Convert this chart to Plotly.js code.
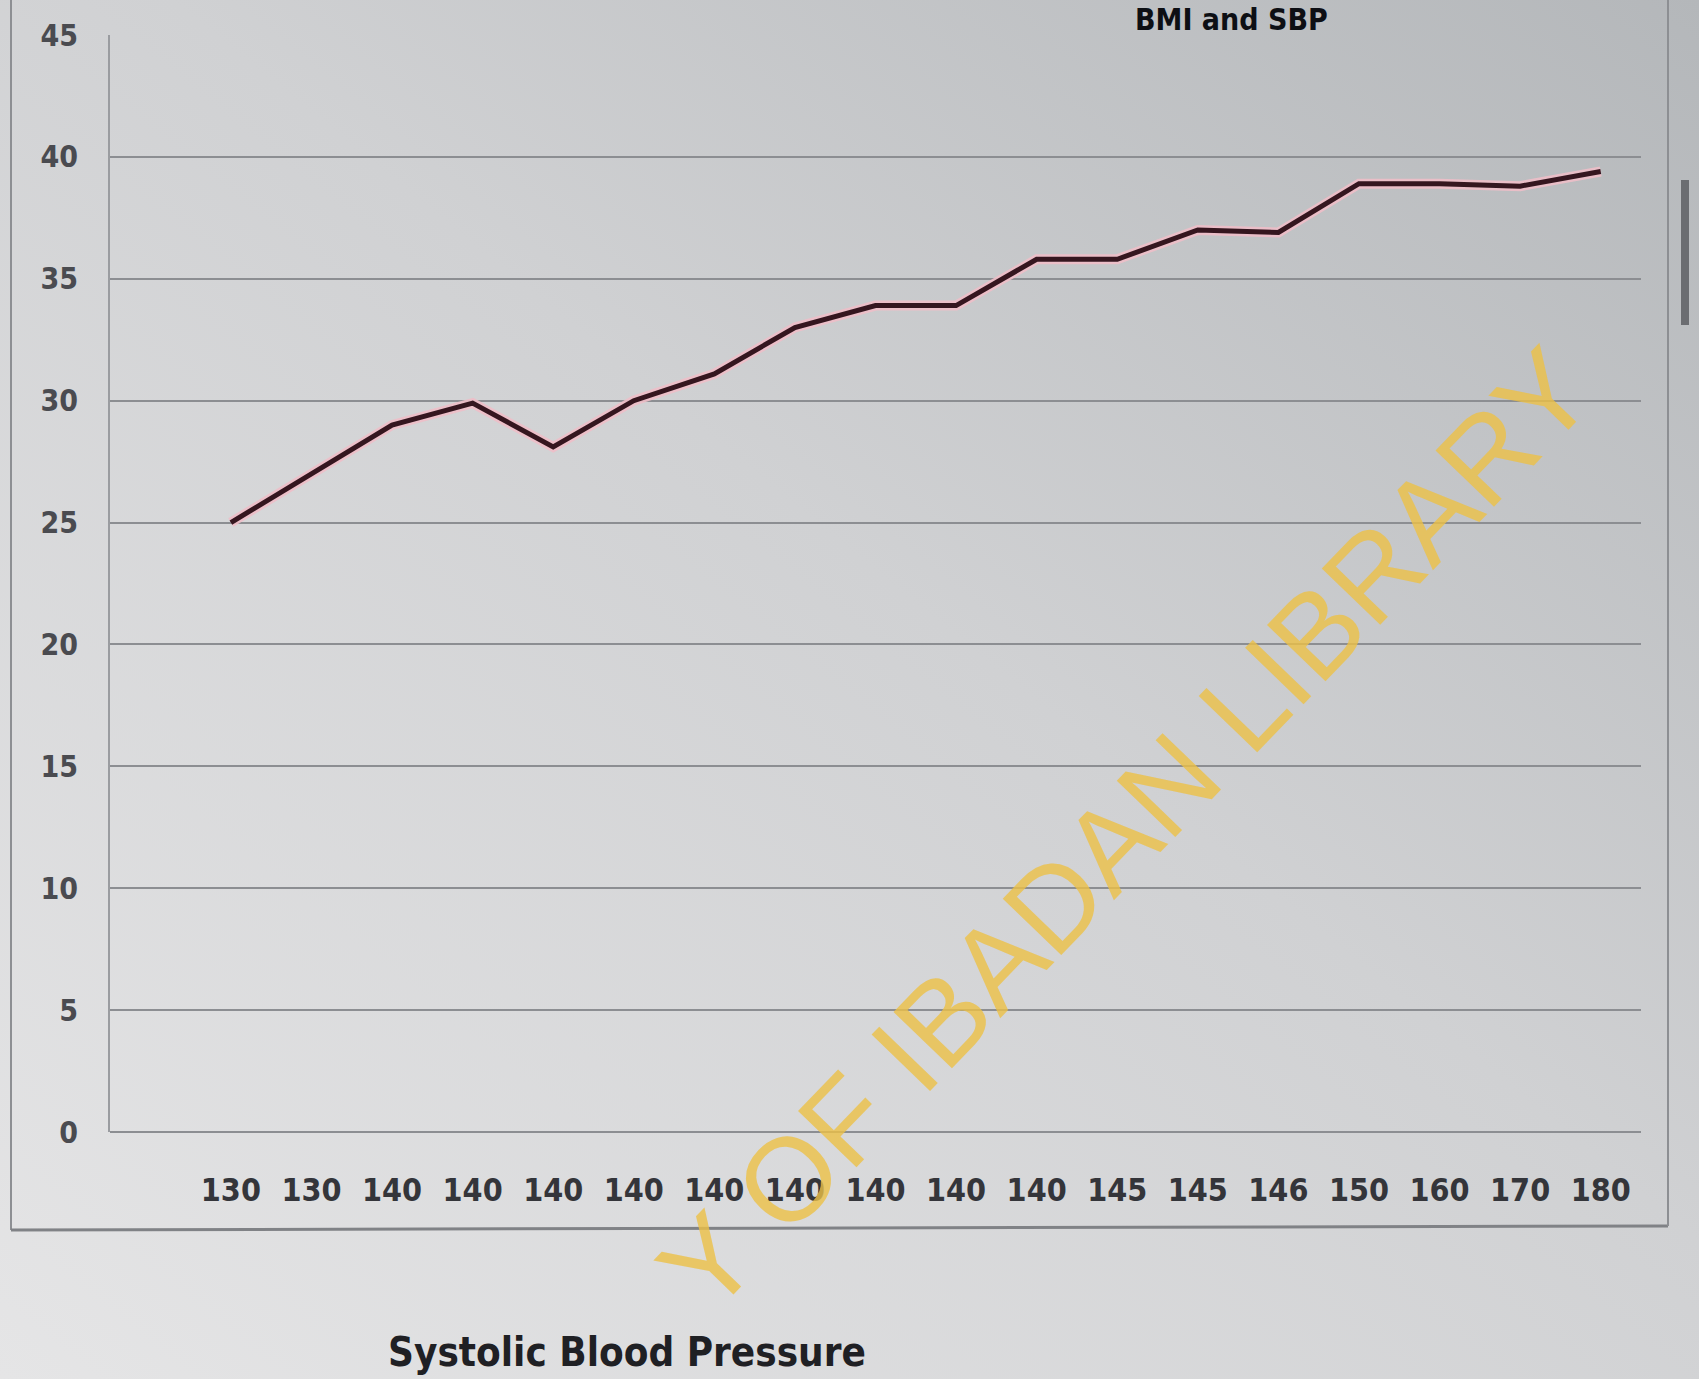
<!DOCTYPE html>
<html>
<head>
<meta charset="utf-8">
<script src="https://cdn.plot.ly/plotly-3.0.1.min.js"></script>
<style>
  html, body { margin: 0; padding: 0; background: #d6d7da; }
  #chart { width: 1699px; height: 1379px; }
</style>
</head>
<body>
<div id="chart"></div>
<script>
// ---- data ----
const sbpLabels = ["130", "130", "140", "140", "140", "140", "140", "140", "140", "140", "140", "145", "145", "146", "150", "160", "170", "180"];
const bmiValues = [25.0, 27.0, 29.0, 29.9, 28.1, 30.0, 31.1, 33.0, 33.9, 33.9, 35.8, 35.8, 37.0, 36.9, 38.9, 38.9, 38.8, 39.4];
const yTicks = [0, 5, 10, 15, 20, 25, 30, 35, 40, 45];
const titleText = "BMI and SBP";
const xTitleText = "Systolic Blood Pressure";
const watermarkText = "Y OF IBADAN LIBRARY";

const xIdx = sbpLabels.map((_, i) => i);
const cond = "'DejaVu Sans Condensed', 'Liberation Sans Narrow', 'Arial Narrow', sans-serif";

const W = 1699, H = 1379;
const M = { l: 110, r: 58, t: 35, b: 247 };
const pw = W - M.l - M.r, ph = H - M.t - M.b;
const px = v => (v - M.l) / pw;          // page x pixel -> paper
const py = v => (H - M.b - v) / ph;      // page y pixel -> paper

const bgSvg = "<svg xmlns='http://www.w3.org/2000/svg' width='1699' height='1379'>" +
  "<defs><linearGradient id='g' x1='1' y1='0' x2='0' y2='1'>" +
  "<stop offset='0' stop-color='#b4b7ba'/>" +
  "<stop offset='0.45' stop-color='#d0d1d3'/>" +
  "<stop offset='1' stop-color='#e5e5e6'/>" +
  "</linearGradient></defs><rect width='1699' height='1379' fill='url(#g)'/></svg>";
const bgUri = "data:image/svg+xml;charset=utf-8," + encodeURIComponent(bgSvg);

const halo = {
  x: xIdx, y: bmiValues, type: "scatter", mode: "lines",
  line: { color: "rgba(238,190,200,0.9)", width: 10 },
  hoverinfo: "skip", showlegend: false
};
const main = {
  x: xIdx, y: bmiValues, type: "scatter", mode: "lines",
  line: { color: "#35161f", width: 5 },
  name: "BMI", showlegend: false
};

const layout = {
  width: W, height: H,
  margin: M,
  paper_bgcolor: "#d4d5d8",
  plot_bgcolor: "rgba(0,0,0,0)",
  showlegend: false,
  images: [{
    source: bgUri, xref: "paper", yref: "paper",
    x: px(0), y: py(0), sizex: W / pw, sizey: H / ph,
    xanchor: "left", yanchor: "top", sizing: "stretch", layer: "below"
  }],
  xaxis: {
    range: [-1.5, 17.5],
    tickmode: "array", tickvals: xIdx, ticktext: sbpLabels,
    showgrid: false, zeroline: false, showline: false,
    ticks: "outside", ticklen: 30, tickcolor: "rgba(0,0,0,0)",
    tickfont: { family: cond, size: 32, color: "#34353a", weight: "bold" },
    fixedrange: true
  },
  yaxis: {
    range: [0, 45],
    tickmode: "array", tickvals: yTicks,
    showgrid: true, gridcolor: "#8c8e92", gridwidth: 2,
    zeroline: true, zerolinecolor: "#8c8e92", zerolinewidth: 2,
    showline: true, linecolor: "#9a9ca0", linewidth: 2,
    ticks: "outside", ticklen: 24, tickcolor: "rgba(0,0,0,0)",
    tickfont: { family: cond, size: 30, color: "#4a4b50", weight: "bold" },
    fixedrange: true
  },
  shapes: [
    // outer chart-area frame
    { type: "line", xref: "paper", yref: "paper", x0: px(11), x1: px(11), y0: py(0), y1: py(1230), line: { color: "#8d8f93", width: 2 } },
    { type: "line", xref: "paper", yref: "paper", x0: px(11), x1: px(1668), y0: py(1230), y1: py(1226), line: { color: "#808286", width: 3 } },
    { type: "line", xref: "paper", yref: "paper", x0: px(1668), x1: px(1668), y0: py(0), y1: py(1226), line: { color: "#8d8f93", width: 2 } },
    // scrollbar-like dark strip at the right edge
    { type: "rect", xref: "paper", yref: "paper", x0: px(1681), x1: px(1689), y0: py(180), y1: py(325), fillcolor: "#6b6d71", line: { width: 0 } }
  ],
  annotations: [
    {
      text: titleText, xref: "paper", yref: "paper",
      x: px(1330), y: py(0), xanchor: "right", yanchor: "top",
      showarrow: false,
      font: { family: cond, size: 30, color: "#0d0f14", weight: "bold" }
    },
    {
      text: xTitleText, xref: "paper", yref: "paper",
      x: px(627), y: py(1352), xanchor: "center", yanchor: "middle",
      showarrow: false,
      font: { family: cond, size: 40, color: "#1f2024", weight: "bold" }
    },
    {
      text: watermarkText, xref: "paper", yref: "paper",
      x: px(1125), y: py(830), xanchor: "center", yanchor: "middle",
      textangle: -46, showarrow: false,
      font: { family: "'Liberation Sans', Arial, sans-serif", size: 118, color: "rgba(236,192,70,0.8)" }
    }
  ]
};

Plotly.newPlot("chart", [halo, main], layout, { displayModeBar: false, staticPlot: true });
</script>
</body>
</html>
